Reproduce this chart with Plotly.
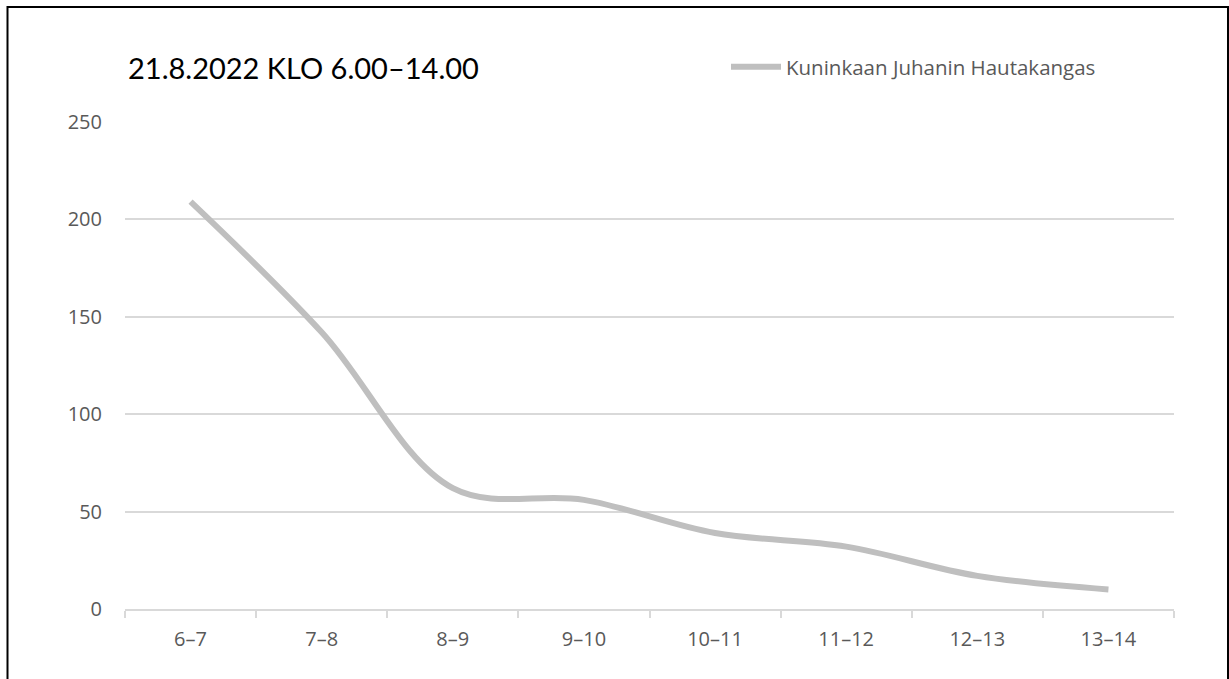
import plotly.graph_objects as go

# Hourly counts, 21.8.2022
hours = ["6–7", "7–8", "8–9", "9–10", "10–11", "11–12", "12–13", "13–14"]
counts = [209, 142, 62, 56, 39, 32, 17, 10]
series_name = "Kuninkaan Juhanin Hautakangas"
chart_title = "21.8.2022 KLO 6.00–14.00"
y_ticks = [0, 50, 100, 150, 200, 250]

W, H = 1229, 679
ML, MR, MT, MB = 125, 55, 121, 70
PW, PH = W - ML - MR, H - MT - MB


def px_x(p):
    return (p - ML) / PW


def px_y(p):
    return (H - MB - p) / PH


fig = go.Figure()
fig.add_trace(go.Scatter(
    x=hours, y=counts, name=series_name, mode="lines",
    line=dict(color="#BFBFBF", width=6, shape="spline", smoothing=1),
    showlegend=True,
))

fig.update_layout(
    width=W, height=H,
    margin=dict(l=ML, r=MR, t=MT, b=MB, pad=0),
    paper_bgcolor="white", plot_bgcolor="white",
    font=dict(family="Open Sans", size=20, color="#595959"),
    title=dict(
        text=chart_title, xref="container", yref="container",
        x=128 / W, y=1 - 69 / H, xanchor="left", yanchor="middle",
        font=dict(family="Lato", size=29, color="black"),
    ),
    showlegend=True,
    legend=dict(
        orientation="h", xref="paper", yref="paper",
        x=px_x(726), y=px_y(67), xanchor="left", yanchor="middle",
        font=dict(family="Open Sans", size=20.5, color="#595959"),
        bgcolor="rgba(0,0,0,0)", itemwidth=50,
    ),
    xaxis=dict(
        type="category", range=[-0.5, len(hours) - 0.5],
        showgrid=False, showline=True,
        linecolor="#D9D9D9", linewidth=1.5,
        ticks="outside", tickson="boundaries", ticklen=7,
        tickcolor="#D9D9D9", tickwidth=1.5, zeroline=False,
        ticklabelstandoff=11,
    ),
    yaxis=dict(
        range=[0, 250.4], tickvals=y_ticks, showgrid=True,
        gridcolor="#D9D9D9", gridwidth=1.5, zeroline=False,
        showline=False, ticks="", ticklabelstandoff=22,
    ),
    shapes=[dict(
        type="rect", xref="paper", yref="paper",
        x0=px_x(7.5), x1=px_x(1228), y0=px_y(720), y1=px_y(7),
        line=dict(color="black", width=2), fillcolor="rgba(0,0,0,0)",
        layer="above",
    )],
)

fig.write_html("out.html")
